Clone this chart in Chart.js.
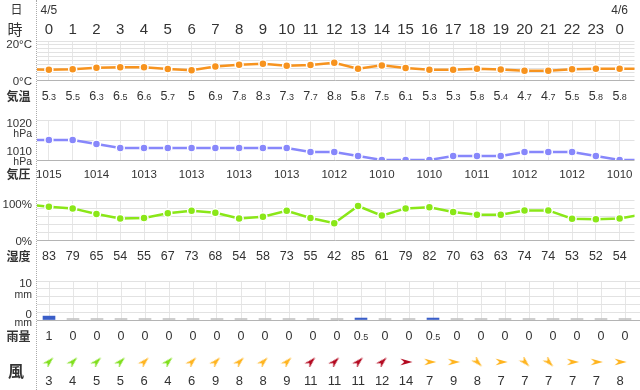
<!DOCTYPE html>
<html lang="ja">
<head>
<meta charset="utf-8">
<script src="https://cdn.jsdelivr.net/npm/chart.js@4.4.1/dist/chart.umd.min.js"></script>
<style>
  body { margin: 0; background: #fff; }
  #wrap { position: relative; width: 640px; height: 390px; overflow: hidden; background: #fff; }
  #wrap canvas { position: absolute; left: 0; }
  .sep { position: absolute; left: 36px; top: 0; height: 390px; border-left: 1px dotted #aaa; }
  .tick { position: absolute; left: 0; width: 32px; text-align: right; height: 12px; line-height: 12px;
          font-family: "Liberation Sans", "Noto Sans CJK JP", sans-serif; color: #333; white-space: nowrap; }
  .row { position: absolute; text-align: center; font-family: "Noto Sans CJK JP", sans-serif; color: #333; white-space: nowrap; }
</style>
</head>
<body>
<div id="wrap">
  <div class="sep"></div>
  <canvas id="cTemp" width="640" height="110" style="top:0px"></canvas>
  <canvas id="cPress" width="640" height="75" style="top:110px"></canvas>
  <canvas id="cHumid" width="640" height="80" style="top:185px"></canvas>
  <canvas id="cRain" width="640" height="80" style="top:265px"></canvas>
  <canvas id="cWind" width="640" height="45" style="top:345px"></canvas>
</div>
<script>
// 1時間ごとの予報 (4/5 0時 〜 4/6 0時)
const hours = ['0','1','2','3','4','5','6','7','8','9','10','11','12','13','14','15','16','17','18','19','20','21','22','23','0']
const dates = ['4/5', '4/6']
const dateAt = [0, 24]
const rowNames = ['日', '時', '気温', '気圧', '湿度', '雨量', '風']

const temps = [5.3, 5.5, 6.3, 6.5, 6.6, 5.7, 5, 6.9, 7.8, 8.3, 7.3, 7.7, 8.8, 5.8, 7.5, 6.1, 5.3, 5.3, 5.8, 5.4, 4.7, 4.7, 5.5, 5.8, 5.8]
const tempEdge = [5.4, 5.8]      // 前後の時間 (端で切れる線)
const pressure = [1015, 1015, 1014, 1013, 1013, 1013, 1013, 1013, 1013, 1013, 1013, 1012, 1012, 1011, 1010, 1010, 1010, 1011, 1011, 1011, 1012, 1012, 1012, 1011, 1010]
const pressEdge = [1015, 1010]
const humidity = [83, 79, 65, 54, 55, 67, 73, 68, 54, 58, 73, 55, 42, 85, 61, 79, 82, 70, 63, 63, 74, 74, 53, 52, 54]
const humidEdge = [90, 64]
const rain = [1, 0, 0, 0, 0, 0, 0, 0, 0, 0, 0, 0, 0, 0.5, 0, 0, 0.5, 0, 0, 0, 0, 0, 0, 0, 0]
const windSpeed = [3, 4, 5, 5, 6, 4, 6, 9, 8, 8, 9, 11, 11, 11, 12, 14, 7, 9, 8, 7, 7, 7, 7, 7, 8]
const windDir = ['南西','南西','南西','南西','南西','南西','南西','南西','南西','南西','南西','南西','南西','南西','南西',
                 '西','西','西','北西','西','北西','北西','西','西','西']

// 目盛りラベル
const tempTickVals = [20, 0]
const tempTickText = [['20°C'], ['0°C']]
const pressTickVals = [1020, 1010]
const pressTickText = [['1020', 'hPa'], ['1010', 'hPa']]
const humidTickVals = [100, 0]
const humidTickText = [['100%'], ['0%']]
const rainTickVals = [10, 0]
const rainTickText = [['10', 'mm'], ['0', 'mm']]

const FONT = '"Liberation Sans", "Noto Sans CJK JP", sans-serif'
const TXT = '#333'
const wrap = document.getElementById('wrap')

// 風向 -> 矢印の向き (風が吹いていく方向, 時計回りの角度)
const dirAngle = { '北': 180, '北東': 225, '東': 270, '南東': 315, '南': 0, '南西': 45, '西': 90, '北西': 135 }

function windColor(s) {
    if (s >= 10) return '#b3081f'
    if (s >= 6) return '#ffb41e'
    return '#7fdf1c'
}

const arrowCache = {}
function arrow(color) {
    if (arrowCache[color]) return arrowCache[color]
    const c = document.createElement('canvas')
    c.width = 16; c.height = 16
    const g = c.getContext('2d')
    g.translate(8, 8)
    g.fillStyle = color
    g.beginPath()
    g.moveTo(0, -6.5)
    g.lineTo(3.4, 5.5)
    g.lineTo(0, 1.8)
    g.lineTo(-3.4, 5.5)
    g.closePath()
    g.fill()
    arrowCache[color] = c
    return c
}

function pts(arr, edge) {
    const out = [{ x: -1, y: edge[0] }]
    arr.forEach((v, i) => out.push({ x: i, y: v }))
    out.push({ x: 25, y: edge[1] })
    return out
}

function xAxis(grid) {
    return {
        type: 'linear', min: -0.5, max: 24.625, offset: false,
        ticks: { display: false, stepSize: 1, includeBounds: false },
        grid: { display: grid, color: '#e6e6e6', drawTicks: false, offset: false },
        border: { display: false },
        afterFit: s => { s.height = 0 }
    }
}

function yAxis(min, max, step) {
    return {
        min: min, max: max,
        ticks: { display: false, stepSize: step },
        grid: { color: c => c.tick.value === min ? '#b4b4b4' : '#e2e2e2', drawTicks: false },
        border: { display: false },
        afterFit: s => { s.width = 37 }
    }
}

function baseOptions(pt, pb) {
    return {
        responsive: false, animation: false, devicePixelRatio: 1, events: [],
        layout: { padding: { top: pt, bottom: pb, left: 0, right: 0 } },
        plugins: { legend: { display: false }, tooltip: { enabled: false } }
    }
}

function lineSet(data, color) {
    return {
        data: data, borderColor: color, borderWidth: 2.5, tension: 0,
        pointBackgroundColor: color, pointBorderColor: '#fff', pointBorderWidth: 1.5, pointRadius: 4
    }
}

// 整数部は大きく, 小数部は小さく
function num(ctx, v, x, y, big, small) {
    const s = String(v)
    const k = s.indexOf('.')
    const a = k < 0 ? s : s.slice(0, k)
    const b = k < 0 ? '' : s.slice(k)
    ctx.font = big + 'px ' + FONT
    const wa = ctx.measureText(a).width
    ctx.font = small + 'px ' + FONT
    const wb = b ? ctx.measureText(b).width : 0
    const x0 = x - (wa + wb) / 2
    ctx.fillStyle = TXT
    ctx.textAlign = 'left'
    ctx.textBaseline = 'alphabetic'
    ctx.font = big + 'px ' + FONT
    ctx.fillText(a, x0, y)
    if (b) {
        ctx.font = small + 'px ' + FONT
        ctx.fillText(b, x0 + wa, y)
    }
}

function addTicks(chart, top, vals, texts, shifts) {
    vals.forEach((v, i) => {
        const py = top + chart.scales.y.getPixelForValue(v)
        texts[i].forEach((t, j) => {
            const d = document.createElement('div')
            d.className = 'tick'
            d.style.fontSize = (j === 0 ? 11.5 : 10.5) + 'px'
            d.textContent = t
            d.style.top = (py + shifts[i][j] - 6) + 'px'
            wrap.appendChild(d)
        })
    })
}

// 気温
const chartTemp = new Chart(document.getElementById('cTemp'), {
    type: 'line',
    data: { datasets: [lineSet(pts(temps, tempEdge), '#f7931e')] },
    options: Object.assign(baseOptions(41, 30), {
        scales: { x: xAxis(true), y: yAxis(0, 20, 2) }
    }),
    plugins: [{
        id: 'rowsTemp',
        afterDraw(chart) {
            const ctx = chart.ctx
            const x = chart.scales.x
            ctx.save()
            ctx.fillStyle = TXT
            ctx.textAlign = 'center'
            ctx.textBaseline = 'alphabetic'
            ctx.font = '12px ' + FONT
            dates.forEach((d, i) => ctx.fillText(d, x.getPixelForValue(dateAt[i]), 13.5))
            ctx.font = '15px ' + FONT
            hours.forEach((h, i) => ctx.fillText(h, x.getPixelForValue(i), 33.5))
            temps.forEach((v, i) => num(ctx, v, x.getPixelForValue(i), 100, 12.5, 9))
            ctx.restore()
        }
    }]
})

// 気圧
const chartPress = new Chart(document.getElementById('cPress'), {
    type: 'line',
    data: { datasets: [lineSet(pts(pressure, pressEdge), '#8787fb')] },
    options: Object.assign(baseOptions(10, 25), {
        scales: { x: xAxis(true), y: yAxis(1010, 1020, 5) }
    }),
    plugins: [{
        id: 'rowsPress',
        afterDraw(chart) {
            const ctx = chart.ctx
            const x = chart.scales.x
            ctx.save()
            ctx.fillStyle = TXT
            ctx.textAlign = 'center'
            ctx.textBaseline = 'alphabetic'
            ctx.font = '11.5px ' + FONT
            pressure.forEach((v, i) => {
                if (i % 2 === 0) ctx.fillText(String(v), x.getPixelForValue(i), 67.5)
            })
            ctx.restore()
        }
    }]
})

// 湿度
const chartHumid = new Chart(document.getElementById('cHumid'), {
    type: 'line',
    data: { datasets: [lineSet(pts(humidity, humidEdge), '#8ae718')] },
    options: Object.assign(baseOptions(15, 25), {
        scales: { x: xAxis(true), y: yAxis(0, 100, 20) }
    }),
    plugins: [{
        id: 'rowsHumid',
        afterDraw(chart) {
            const ctx = chart.ctx
            const x = chart.scales.x
            ctx.save()
            humidity.forEach((v, i) => num(ctx, v, x.getPixelForValue(i), 75, 12.5, 9))
            ctx.restore()
        }
    }]
})

// 雨量
const chartRain = new Chart(document.getElementById('cRain'), {
    type: 'bar',
    data: {
        datasets: [{
            data: rain.map((v, i) => ({ x: i, y: v })),
            backgroundColor: rain.map(v => v > 0 ? '#3a5ec8' : '#c4c4c4'),
            barThickness: 12,
            minBarLength: 1.5
        }]
    },
    options: Object.assign(baseOptions(16, 25), {
        scales: { x: xAxis(true), y: yAxis(0, 10, 2) }
    }),
    plugins: [{
        id: 'rowsRain',
        afterDraw(chart) {
            const ctx = chart.ctx
            const x = chart.scales.x
            ctx.save()
            rain.forEach((v, i) => num(ctx, v, x.getPixelForValue(i), 75, 12.5, 9))
            ctx.restore()
        }
    }]
})

// 風
const chartWind = new Chart(document.getElementById('cWind'), {
    type: 'scatter',
    data: {
        datasets: [{
            data: windSpeed.map((s, i) => ({ x: i, y: 0 })),
            pointStyle: c => arrow(windColor(windSpeed[c.dataIndex])),
            pointRotation: c => dirAngle[windDir[c.dataIndex]]
        }]
    },
    options: Object.assign(baseOptions(12, 23), {
        scales: {
            x: xAxis(false),
            y: Object.assign(yAxis(-1, 1, 1), { grid: { display: false } })
        }
    }),
    plugins: [{
        id: 'rowsWind',
        afterDraw(chart) {
            const ctx = chart.ctx
            const x = chart.scales.x
            ctx.save()
            windSpeed.forEach((v, i) => num(ctx, v, x.getPixelForValue(i), 40, 13, 9))
            ctx.restore()
        }
    }]
})

// 左側の目盛りラベル
addTicks(chartTemp, 0, tempTickVals, tempTickText, [[3], [1.3]])
addTicks(chartPress, 110, pressTickVals, pressTickText, [[3, 13.3], [-8.7, 1]])
addTicks(chartHumid, 185, humidTickVals, humidTickText, [[3.5], [1.3]])
addTicks(chartRain, 265, rainTickVals, rainTickText, [[2.3, 12.7], [-6.3, 2]])

// 行の見出し
const rowPos = [[16.5, 9, 12, 'normal'], [15, 28, 15, 'normal'], [18.5, 95.5, 12, 'bold'], [18.5, 173.5, 12, 'bold'],
                [18.5, 255.5, 12, 'bold'], [18.5, 336, 12, 'bold'], [16, 369.5, 16, 'bold']]
rowNames.forEach((t, i) => {
    const p = rowPos[i]
    const d = document.createElement('div')
    d.className = 'row'
    d.textContent = t
    d.style.fontSize = p[2] + 'px'
    d.style.fontWeight = p[3]
    d.style.lineHeight = p[2] + 'px'
    d.style.width = '40px'
    d.style.left = (p[0] - 20) + 'px'
    d.style.top = (p[1] - p[2] / 2) + 'px'
    wrap.appendChild(d)
})
</script>
</body>
</html>
